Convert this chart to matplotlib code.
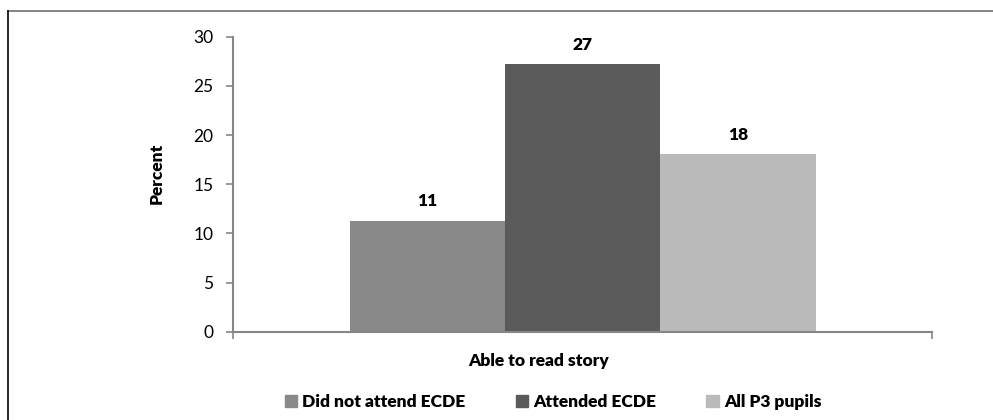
import matplotlib.pyplot as plt
from matplotlib.lines import Line2D
from matplotlib.patches import Patch


category = "Able to read story"
groups = ["Did not attend ECDE", "Attended ECDE", "All P3 pupils"]
percent = [11.3, 27.2, 18.1]
bar_colors = ["#898989", "#5a5a5a", "#bababa"]
y_ticks = [0, 5, 10, 15, 20, 25, 30]

W, H = 993, 420
AXIS_GRAY = "#868686"
FS = 12.5

plt.rcParams["font.family"] = ["Lato", "DejaVu Sans"]

fig = plt.figure(figsize=(W / 100, H / 100), dpi=100)
ax = fig.add_axes([233 / W, 1 - 331.7 / H, 699 / W, 295 / H])

# three bars share one category, filling 2/3 of its width
bar_w = (2 / 3) / len(groups)
for i, (name, val, col) in enumerate(zip(groups, percent, bar_colors)):
    x = (i - 1) * bar_w
    ax.bar(x, val, width=bar_w, color=col, label=name, zorder=2)
    ax.annotate(f"{val:.0f}", (x, val), xytext=(0, 8),
                textcoords="offset points", ha="center", va="bottom",
                fontsize=FS, fontweight="heavy")

ax.set_xlim(-0.5, 0.5)
ax.set_ylim(0, 30)
ax.set_yticks(y_ticks)
ax.set_xticks([-0.5, 0.5])
ax.set_xticklabels([])

for side in ["top", "right"]:
    ax.spines[side].set_visible(False)
for side in ["left", "bottom"]:
    ax.spines[side].set_color(AXIS_GRAY)
    ax.spines[side].set_linewidth(1.5)
ax.spines["bottom"].set_zorder(3)

ax.tick_params(axis="y", direction="out", length=5, width=1.2,
               color=AXIS_GRAY, labelsize=FS, pad=9)
ax.tick_params(axis="x", direction="out", length=5, width=1.2,
               color=AXIS_GRAY)

fig.text(157 / W, 1 - 173 / H, "Percent", rotation=90, ha="center",
         va="center", fontsize=FS, fontweight="heavy")
fig.text(539 / W, 1 - 361 / H, category, ha="center", va="center",
         fontsize=FS, fontweight="heavy")

handles = [Patch(color=c, label=g) for g, c in zip(groups, bar_colors)]
fig.legend(handles=handles, loc="center", bbox_to_anchor=(553 / W, 1 - 401.7 / H),
           ncol=3, frameon=False, handlelength=0.7,
           handleheight=0.7, handletextpad=0.3, columnspacing=2.9,
           prop={"weight": "heavy", "size": FS})

# chart frame edges
fig.add_artist(Line2D([8 / W, 1], [1 - 11 / H, 1 - 11 / H], color="#707070",
                      lw=1.2, transform=fig.transFigure))
fig.add_artist(Line2D([8 / W, 8 / W], [0, 1 - 11 / H], color="black",
                      lw=1.2, transform=fig.transFigure))

fig.savefig("out.png", dpi=100)
